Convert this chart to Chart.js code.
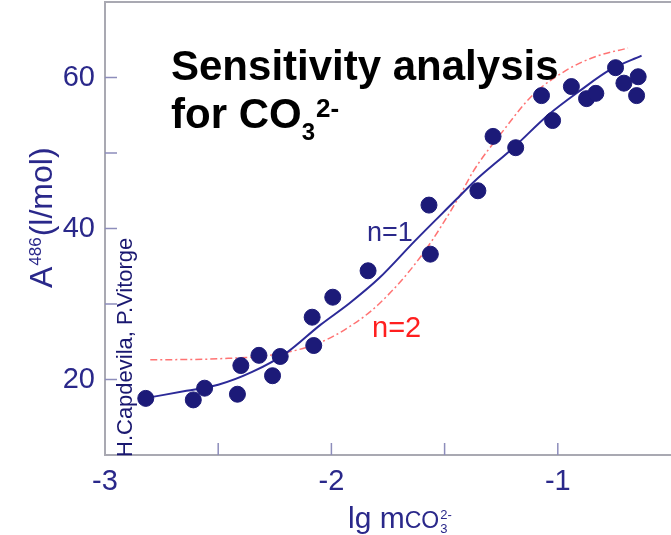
<!DOCTYPE html>
<html>
<head>
<meta charset="utf-8">
<script src="https://cdn.jsdelivr.net/npm/chart.js@4"></script>
<style>
html, body { margin: 0; padding: 0; background: #fff; overflow: hidden; }
</style>
</head>
<body>
<canvas id="myChart" width="671" height="535"></canvas>
<script>
// measured points, lg m(CO3 2-) against A486 (l/mol)
const pointX = [-2.82, -2.61, -2.56, -2.415, -2.40, -2.32, -2.26, -2.226, -2.085, -2.078, -1.994,
                -1.838, -1.569, -1.563, -1.353, -1.286, -1.186, -1.072, -1.023, -0.94, -0.873,
                -0.832, -0.745, -0.708, -0.645, -0.652];
const pointY = [17.5, 17.3, 18.85, 18.05, 21.85, 23.2, 20.5, 23.05, 28.25, 24.5, 30.9,
                34.4, 43.1, 36.6, 45.0, 52.2, 50.7, 57.6, 54.3, 58.8, 57.2,
                57.9, 61.3, 59.25, 60.1, 57.6];

// fitted curve n=1 (solid)
const fit1X = [-2.79, -2.64, -2.50, -2.35, -2.20, -2.05, -1.92, -1.79, -1.63, -1.45, -1.37, -1.20, -1.04, -0.90, -0.77, -0.63];
const fit1Y = [17.7, 18.5, 19.3, 21.0, 23.5, 27.2, 30.1, 33.4, 38.4, 43.8, 46.2, 50.6, 55.1, 58.3, 61.0, 62.9];

// fitted curve n=2 (dash-dot)
const fit2X = [-2.80, -2.50, -2.23, -2.05, -1.92, -1.79, -1.60, -1.43, -1.375, -1.24, -1.11, -0.96, -0.83, -0.69];
const fit2Y = [22.6, 22.75, 23.4, 24.9, 27.0, 30.0, 36.5, 44.5, 47.5, 53.0, 57.7, 61.0, 62.8, 63.9];

// axis ticks that carry a label
const xTickLabels = [-3, -2, -1];
const yTickLabels = [20, 40, 60];

const navy = '#1c1a78';
const textNavy = '#2a288a';
const axisGray = '#a9a9b2';
const FONT = '"Liberation Sans", Arial, sans-serif';

function toXY(xs, ys) {
    let out = [];
    for (let i = 0; i < xs.length; i++) {
        out.push({x: xs[i], y: ys[i]});
    }
    return out;
}

// ticks point into the plot, plus the top frame line
const innerTicks = {
    id: 'innerTicks',
    beforeDatasetsDraw(chart) {
        const c = chart.ctx;
        const area = chart.chartArea;
        const xs = chart.scales.x;
        const ys = chart.scales.y;
        c.save();
        c.strokeStyle = axisGray;
        c.lineWidth = 2;
        c.beginPath();
        c.moveTo(area.left, area.top);
        c.lineTo(area.right, area.top);
        c.stroke();
        c.strokeStyle = '#8d8dbb';
        c.lineWidth = 1.5;
        xs.ticks.forEach(t => {
            const px = xs.getPixelForValue(t.value);
            if (px <= area.left + 2 || px >= area.right - 2) return;
            c.beginPath();
            c.moveTo(px, area.bottom);
            c.lineTo(px, area.bottom - 12);
            c.stroke();
        });
        ys.ticks.forEach(t => {
            const py = ys.getPixelForValue(t.value);
            if (py >= area.bottom - 2 || py <= area.top + 2) return;
            c.beginPath();
            c.moveTo(area.left, py);
            c.lineTo(area.left + 12, py);
            c.stroke();
        });
        c.restore();
    }
};

// titles and notes, with sub/superscripts
const texts = {
    id: 'texts',
    afterDraw(chart) {
        const c = chart.ctx;
        c.save();
        c.textBaseline = 'alphabetic';
        c.textAlign = 'left';

        // headline
        c.fillStyle = '#000';
        c.font = 'bold 42px ' + FONT;
        c.fillText('Sensitivity analysis', 171, 80);
        c.fillText('for CO', 171, 128);
        let w = c.measureText('for CO').width;
        c.font = 'bold 24px ' + FONT;
        c.fillText('3', 171 + w, 140);
        let w3 = c.measureText('3').width;
        c.font = 'bold 26px ' + FONT;
        c.fillText('2-', 171 + w + w3 + 1, 117);

        // fit labels
        c.font = '27px ' + FONT;
        c.fillStyle = textNavy;
        c.fillText('n=1', 367, 241);
        c.font = '29px ' + FONT;
        c.fillStyle = '#ff1f1f';
        c.fillText('n=2', 372, 337);

        // x axis title
        c.fillStyle = textNavy;
        c.font = '30px ' + FONT;
        c.fillText('lg m', 348, 528);
        let x0 = 348 + c.measureText('lg m').width;
        c.font = '23px ' + FONT;
        c.fillText('CO', x0, 528);
        x0 += c.measureText('CO').width + 1;
        c.font = '13px ' + FONT;
        c.fillText('2-', x0, 519);
        c.fillText('3', x0, 533);

        // y axis title, rotated
        c.save();
        c.translate(52, 288);
        c.rotate(-Math.PI / 2);
        c.font = '32px ' + FONT;
        c.fillText('A', 0, 0);
        let wa = c.measureText('A').width;
        c.font = '17px ' + FONT;
        c.fillText('486', wa + 1, -11);
        let ws = c.measureText('486').width;
        c.font = '32px ' + FONT;
        c.fillText('(l/mol)', wa + ws + 2, 0);
        c.restore();

        // authors
        c.save();
        c.translate(132, 457);
        c.rotate(-Math.PI / 2);
        c.fillStyle = '#1a1870';
        c.font = '22px ' + FONT;
        c.fillText('H.Capdevila, P.Vitorge', 0, 0);
        c.restore();

        c.restore();
    }
};

var ctx = document.getElementById('myChart');

var chart = new Chart(ctx, {
    type: 'scatter',
    data: {
        datasets: [
            {
                label: 'data',
                data: toXY(pointX, pointY),
                backgroundColor: navy,
                borderColor: navy,
                pointRadius: 8,
                pointHoverRadius: 8
            },
            {
                type: 'line',
                label: 'n=1',
                data: toXY(fit1X, fit1Y),
                borderColor: '#2c2a98',
                borderWidth: 2,
                pointRadius: 0,
                fill: false,
                cubicInterpolationMode: 'monotone'
            },
            {
                type: 'line',
                label: 'n=2',
                data: toXY(fit2X, fit2Y),
                borderColor: 'rgba(255,80,80,0.8)',
                borderWidth: 1.5,
                borderDash: [7, 3, 2, 3],
                pointRadius: 0,
                fill: false,
                cubicInterpolationMode: 'monotone'
            }
        ]
    },
    options: {
        responsive: false,
        animation: false,
        layout: { autoPadding: false, padding: { top: 2, right: 0, left: 0, bottom: 0 } },
        plugins: {
            legend: { display: false },
            tooltip: { enabled: false }
        },
        scales: {
            x: {
                type: 'linear',
                position: 'bottom',
                min: -3,
                max: -0.5,
                afterFit: s => {
                    s.height = 80;
                    s.paddingLeft = 0;
                    s.paddingRight = 0;
                },
                grid: { display: false, drawTicks: false },
                border: { display: true, color: axisGray, width: 2 },
                ticks: {
                    stepSize: 0.5,
                    autoSkip: false,
                    maxRotation: 0,
                    padding: 10,
                    color: textNavy,
                    font: { size: 29, family: FONT },
                    callback: v => xTickLabels.includes(v) ? String(v) : ''
                }
            },
            y: {
                type: 'linear',
                min: 10,
                max: 70,
                afterFit: s => {
                    s.width = 105;
                    s.paddingTop = 0;
                    s.paddingBottom = 0;
                },
                grid: { display: false, drawTicks: false },
                border: { display: true, color: axisGray, width: 2 },
                ticks: {
                    stepSize: 10,
                    autoSkip: false,
                    padding: 10,
                    color: textNavy,
                    font: { size: 29, family: FONT },
                    callback: v => yTickLabels.includes(v) ? String(v) : ''
                }
            }
        }
    },
    plugins: [innerTicks, texts]
});
</script>
</body>
</html>
